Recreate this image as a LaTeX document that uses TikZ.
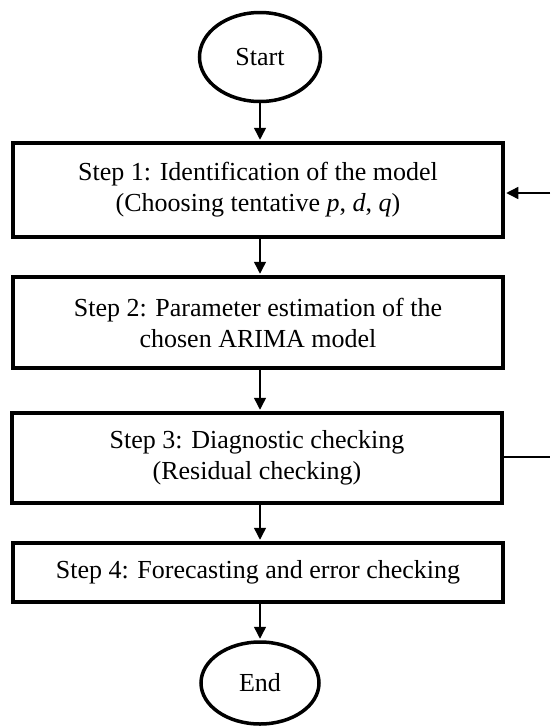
\documentclass[tikz,border=0pt]{standalone}
\usepackage{fontspec}
\setmainfont{Liberation Serif}
\usetikzlibrary{arrows.meta,shapes.geometric}
\begin{document}
\begin{tikzpicture}[x=1pt,y=-1pt,
  box/.style={draw,line width=3.5pt,inner sep=0pt,align=center,minimum width=490pt,
    font=\fontsize{26}{31}\selectfont},
  term/.style={draw,ellipse,line width=3.5pt,inner sep=0pt,font=\fontsize{26}{30}\selectfont},
  conn/.style={line width=1.4pt},
  arr/.style={conn,-{Triangle[length=12pt,width=12pt]},shorten >=1.5pt}]
\useasboundingbox (0,0) rectangle (550,726);
\node[term,minimum width=121pt,minimum height=89pt] (start) at (260,57) {Start};
\node[box,minimum height=94pt] (s1) at (258,190) {Step 1: Identification of the model\\(Choosing tentative \textit{p}, \textit{d}, \textit{q})};
\node[box,minimum height=91pt] (s2) at (258,322.5) {Step 2: Parameter estimation of the\\chosen ARIMA model};
\node[box,minimum height=90pt] (s3) at (257,458) {Step 3: Diagnostic checking\\(Residual checking)};
\node[box,minimum height=59pt] (s4) at (258,572.5) {Step 4: Forecasting and error checking};
\node[term,minimum width=118pt,minimum height=82pt] (end) at (260,683) {End};
\coordinate (fb3) at (550,457);
\coordinate (fb1) at (550,193);
\draw[arr] (start.south) -- (start.south |- s1.north);
\draw[arr] (start.south |- s1.south) -- (start.south |- s2.north);
\draw[arr] (start.south |- s2.south) -- (start.south |- s3.north);
\draw[arr] (start.south |- s3.south) -- (start.south |- s4.north);
\draw[arr] (end.north |- s4.south) -- (end.north);
\draw[conn] (s3.east |- fb3) -- (fb3);
\draw[arr] (fb1) -- (s1.east |- fb1);
\end{tikzpicture}
\end{document}
